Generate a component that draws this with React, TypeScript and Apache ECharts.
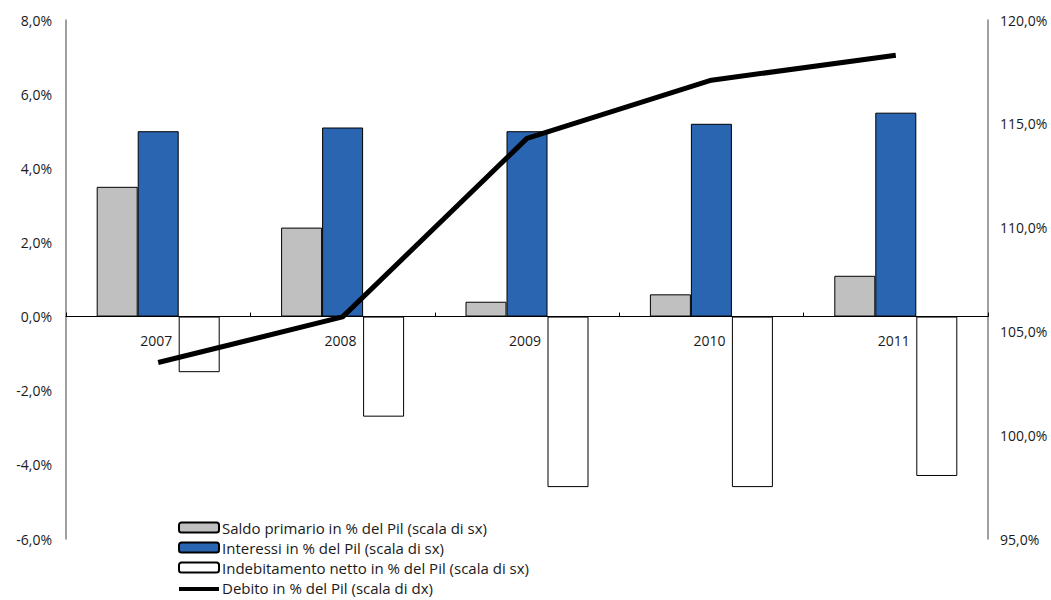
import React, { useEffect, useRef } from "react";
import * as echarts from "echarts";

const years = ["2007", "2008", "2009", "2010", "2011"];
const saldoPrimario = [3.5, 2.4, 0.4, 0.6, 1.1];
const interessi = [5.0, 5.1, 5.0, 5.2, 5.5];
const indebitamento = [-1.5, -2.7, -4.6, -4.6, -4.3];
const debito = [103.5, 105.7, 114.3, 117.1, 118.3];

const names = [
  "Saldo primario in % del Pil (scala di sx)",
  "Interessi in % del Pil (scala di sx)",
  "Indebitamento netto in % del Pil (scala di sx)",
  "Debito in % del Pil (scala di dx)",
];

const fmt = (v: number) => v.toFixed(1).replace(".", ",") + "%";
const FONT = "Open Sans";

export default function App() {
  const ref = useRef<HTMLDivElement>(null);
  useEffect(() => {
    document.body.style.margin = "0";
    const chart = echarts.init(ref.current!, null, { renderer: "svg" });
    chart.setOption({
      animation: false,
      textStyle: { fontFamily: FONT, color: "#1a1a1a" },
      grid: { left: 66, right: 63, top: 20, bottom: 61, containLabel: false },
      legend: {
        orient: "vertical",
        left: 178,
        top: 520,
        padding: 0,
        height: 90,
        itemWidth: 40,
        itemHeight: 10,
        itemGap: 5,
        textStyle: { fontFamily: FONT, fontSize: 15, color: "#1a1a1a", padding: [0, 0, 0, -2] },
        data: [
          { name: names[0] },
          { name: names[1] },
          { name: names[2] },
          { name: names[3], icon: "path://M0,0L0,0M0,3h40v4h-40z" },
        ],
      },
      xAxis: {
        type: "category",
        data: years,
        axisLine: { onZero: true, onZeroAxisIndex: 0, lineStyle: { color: "#000", width: 1 } },
        axisTick: { show: true, inside: true, length: 4, lineStyle: { color: "#000" } },
        axisLabel: { show: false },
        z: 1,
      },
      yAxis: [
        {
          type: "value",
          min: -6,
          max: 8,
          interval: 2,
          splitLine: { show: false },
          axisLine: { show: true, lineStyle: { color: "#808080", width: 1.5 } },
          axisTick: { show: false },
          axisLabel: { formatter: fmt, fontFamily: FONT, fontSize: 14, color: "#1a1a1a", margin: 14 },
        },
        {
          type: "value",
          min: 95,
          max: 120,
          interval: 5,
          splitLine: { show: false },
          axisLine: { show: true, lineStyle: { color: "#808080", width: 1.5 } },
          axisTick: { show: false },
          axisLabel: { formatter: fmt, fontFamily: FONT, fontSize: 14, color: "#1a1a1a", margin: 12 },
        },
      ],
      series: [
        {
          name: names[0],
          type: "bar",
          data: saldoPrimario,
          barWidth: 41,
          barGap: "0%",
          itemStyle: { color: "#c0c0c0", borderColor: "#000", borderWidth: 1 },
        },
        {
          name: names[1],
          type: "bar",
          data: interessi,
          barWidth: 41,
          barGap: "0%",
          itemStyle: { color: "#2a65b1", borderColor: "#000", borderWidth: 1 },
        },
        {
          name: names[2],
          type: "bar",
          data: indebitamento,
          barWidth: 41,
          barGap: "0%",
          itemStyle: { color: "#ffffff", borderColor: "#000", borderWidth: 1 },
        },
        {
          name: "yearLabels",
          type: "custom",
          yAxisIndex: 0,
          data: years.map((_, i) => [i, 0]),
          z: 3,
          silent: true,
          renderItem: (params: any, api: any) => {
            const i = api.value(0);
            const p = api.coord([i, 0]);
            return {
              type: "text",
              x: p[0] - 2,
              y: p[1] + 17,
              style: {
                text: years[i],
                fontFamily: FONT,
                fontSize: 14,
                fill: "#1a1a1a",
                align: "center",
                verticalAlign: "top",
              },
            };
          },
        },
        {
          name: names[3],
          type: "line",
          yAxisIndex: 1,
          data: debito,
          symbol: "none",
          lineStyle: { color: "#000", width: 5 },
          itemStyle: { color: "#000" },
          z: 5,
        },
      ],
    });
    return () => chart.dispose();
  }, []);
  return <div ref={ref} style={{ width: 1051, height: 600 }} />;
}
